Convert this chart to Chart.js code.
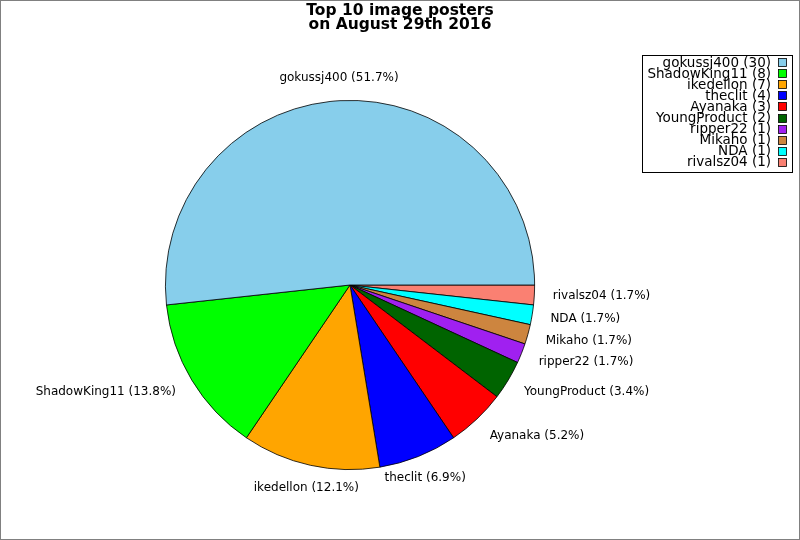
<!DOCTYPE html>
<html lang="en">
<head>
    <meta charset="UTF-8">
    <title>Top 10 image posters</title>
    <script src="https://cdn.jsdelivr.net/npm/chart.js"></script>
    <style>
        body { margin: 0; background: #fff; }
        #wrap { width: 800px; height: 540px; }
    </style>
</head>
<body>
    <div id="wrap"><canvas id="pieChart" width="800" height="540"></canvas></div>

    <script>
        // data, in the order of the legend
        const posters = ['gokussj400', 'ShadowKing11', 'ikedellon', 'theclit', 'Ayanaka',
                         'YoungProduct', 'ripper22', 'Mikaho', 'NDA', 'rivalsz04'];
        const imageCounts = [30, 8, 7, 4, 3, 2, 1, 1, 1, 1];
        const sliceColors = ['#87CEEB', '#00FF00', '#FFA500', '#0000FF', '#FF0000',
                             '#006400', '#A020F0', '#CD853F', '#00FFFF', '#FA8072'];
        const titleLines = ['Top 10 image posters', 'on August 29th 2016'];

        const total = imageCounts.reduce((a, b) => a + b, 0);

        // the original goes counter-clockwise from 3 o'clock, chart.js goes clockwise,
        // so feed it the slices backwards
        const revNames = posters.slice().reverse();
        const revCounts = imageCounts.slice().reverse();
        const revColors = sliceColors.slice().reverse();

        const figurePlugin = {
            id: 'figure',
            beforeDraw(chart) {
                const c = chart.ctx;
                c.save();
                c.fillStyle = '#fff';
                c.fillRect(0, 0, chart.width, chart.height);
                c.restore();
            },
            afterDraw(chart) {
                const c = chart.ctx;
                c.save();

                // outside labels
                const meta = chart.getDatasetMeta(0);
                c.font = '12px "DejaVu Sans"';
                c.fillStyle = '#000';
                c.textBaseline = 'middle';
                meta.data.forEach((arc, i) => {
                    const mid = (arc.startAngle + arc.endAngle) / 2;
                    const r = arc.outerRadius;
                    const cos = Math.cos(mid), sin = Math.sin(mid);
                    const x = arc.x + cos * r * 1.1;
                    const y = arc.y + sin * r * 1.125;
                    c.textAlign = cos > 0.5 ? 'left' : (cos < -0.5 ? 'right' : 'center');
                    const pct = (revCounts[i] / total * 100).toFixed(1);
                    c.fillText(revNames[i] + ' (' + pct + '%)', x, y);
                });

                // title
                c.font = 'bold 15.5px "DejaVu Sans"';
                c.textAlign = 'center';
                c.textBaseline = 'alphabetic';
                titleLines.forEach((t, i) => c.fillText(t, 400, 15 + i * 14));

                // legend box
                c.fillStyle = '#fff';
                c.fillRect(642.5, 55.5, 150, 117);
                c.strokeStyle = '#000';
                c.lineWidth = 1;
                c.strokeRect(642.5, 55.5, 150, 117);
                c.font = '13.5px "DejaVu Sans"';
                c.textAlign = 'right';
                c.textBaseline = 'middle';
                posters.forEach((name, i) => {
                    const y = 63 + i * 11.1;
                    c.fillStyle = '#000';
                    c.fillText(name + ' (' + imageCounts[i] + ')', 771, y);
                    c.fillStyle = sliceColors[i];
                    c.fillRect(778.5, Math.round(y) - 4.5, 8, 8);
                    c.lineWidth = 0.8;
                    c.strokeRect(778.5, Math.round(y) - 4.5, 8, 8);
                });

                // figure frame
                c.strokeStyle = '#808080';
                c.lineWidth = 1;
                c.strokeRect(0.5, 0.5, chart.width - 1, chart.height - 1);
                c.restore();
            }
        };

        new Chart(document.getElementById('pieChart'), {
            type: 'pie',
            data: {
                labels: revNames,
                datasets: [{
                    data: revCounts,
                    backgroundColor: revColors,
                    borderColor: '#000',
                    borderWidth: 0.8,
                    hoverOffset: 0
                }]
            },
            options: {
                responsive: false,
                animation: false,
                rotation: 90,
                layout: { padding: { top: 100, bottom: 70, left: 165, right: 265 } },
                plugins: {
                    legend: { display: false },
                    title: { display: false },
                    tooltip: { enabled: false }
                },
                events: []
            },
            plugins: [figurePlugin]
        });
    </script>
</body>
</html>
